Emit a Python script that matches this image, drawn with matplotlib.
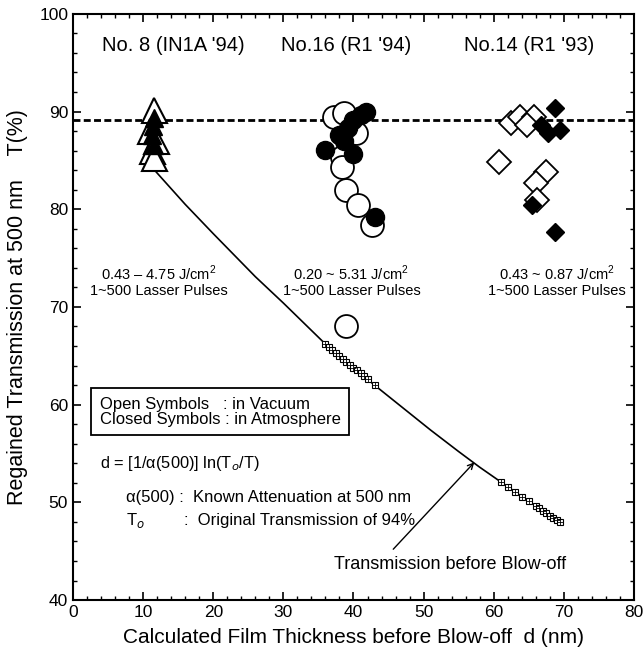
import numpy as np
import matplotlib
matplotlib.use("Agg")
import matplotlib.pyplot as plt
from matplotlib.ticker import MultipleLocator

plt.rcParams['font.family'] = ['Liberation Sans', 'DejaVu Sans']
plt.rcParams['mathtext.fontset'] = 'custom'
plt.rcParams['mathtext.rm'] = 'Liberation Sans'

# --- data ---
# No. 8 (IN1A '94): triangles
tri_open_d = [11.5, 11.0, 11.8, 11.2, 11.6]
tri_open_T = [90.2, 88.0, 87.0, 86.0, 85.2]
tri_closed_d = [11.5, 11.4, 11.3, 11.6]
tri_closed_T = [89.3, 88.5, 87.6, 86.6]

# No.16 (R1 '94): circles
circ_open_d = [37.2, 38.6, 40.3, 38.3, 38.3, 38.9, 40.6, 42.6, 38.9]
circ_open_T = [89.4, 89.8, 87.8, 85.3, 84.3, 82.0, 80.4, 78.4, 68.1]
circ_closed_d = [41.8, 40.0, 41.0, 37.9, 39.2, 36.0, 40.0, 38.6, 43.1]
circ_closed_T = [90.0, 89.1, 89.6, 87.6, 88.3, 86.1, 85.7, 87.0, 79.2]

# No.14 (R1 '93): diamonds
dia_open_d = [62.4, 63.8, 65.8, 64.8, 60.7, 67.4, 66.0, 66.2]
dia_open_T = [88.8, 89.4, 89.4, 88.6, 84.8, 83.8, 82.7, 80.9]
dia_closed_d = [68.8, 66.7, 67.7, 69.4, 65.5, 68.8]
dia_closed_T = [90.4, 88.6, 87.8, 88.1, 80.4, 77.7]

# transmission before blow-off (curve and its sample points)
curve_d = [11.5, 14, 16, 18, 20, 23, 26, 30, 33, 36, 40, 43, 47, 51, 55, 58, 61, 65, 69.5]
curve_T = [84.1, 82.1, 80.5, 79.0, 77.5, 75.3, 73.1, 70.4, 68.3, 66.2, 63.8, 62.0, 59.7, 57.4, 55.2, 53.6, 52.1, 50.1, 48.0]
sq_d = [10.6, 11.4, 12.2, 11.0, 12.0,
        36.0, 36.5, 37.0, 37.5, 38.0, 38.5, 39.0, 39.5, 40.0, 40.5, 41.0,
        41.5, 42.0, 43.0,
        61.0, 62.0, 63.0, 64.0, 65.0, 66.0, 66.5, 67.0, 67.5, 68.0, 68.5,
        69.0, 69.5]
sq_T = [85.0, 85.2, 84.6, 84.4, 85.6,
        66.2, 65.9, 65.6, 65.3, 65.0, 64.7, 64.4, 64.1, 63.8, 63.5, 63.2,
        62.9, 62.6, 62.0,
        52.1, 51.6, 51.1, 50.6, 50.1, 49.6, 49.4, 49.1, 48.9, 48.6, 48.4,
        48.2, 48.0]

T_level = 89.1

fig = plt.figure(figsize=(6.44, 6.58), dpi=100)
ax = fig.add_axes([0.1134, 0.088, 0.871, 0.891])

ax.axhline(T_level, color='black', lw=2, ls=(0, (2.5, 1.2)), zorder=1)

# curve
ax.plot(curve_d, curve_T, color='black', lw=1.2, zorder=2)
ax.plot(sq_d, sq_T, ls='none', marker='s', ms=5, mfc='white', mec='black', mew=0.8, zorder=3)
ax.plot(sq_d, sq_T, ls='none', marker='+', ms=5, mec='black', mew=0.6, zorder=3)

# triangles
for d, T in zip(tri_open_d, tri_open_T):
    ax.plot(d, T, marker='^', ms=18, mfc='white', mec='black', mew=1.5, zorder=4)
ax.plot(tri_closed_d, tri_closed_T, ls='none', marker='^', ms=13, mfc='black', mec='black', zorder=5)

# circles
ax.plot(circ_open_d, circ_open_T, ls='none', marker='o', ms=16.5, mfc='white', mec='black', mew=1.3, zorder=4)
ax.plot(circ_closed_d, circ_closed_T, ls='none', marker='o', ms=13, mfc='black', mec='black', zorder=5)

# diamonds
ax.plot(dia_open_d, dia_open_T, ls='none', marker='D', ms=12, mfc='white', mec='black', mew=1.3, zorder=4)
ax.plot(dia_closed_d, dia_closed_T, ls='none', marker='D', ms=9, mfc='black', mec='black', zorder=5)

ax.set_xlim(0, 80)
ax.set_ylim(40, 100)
ax.xaxis.set_major_locator(MultipleLocator(10))
ax.xaxis.set_minor_locator(MultipleLocator(2))
ax.yaxis.set_major_locator(MultipleLocator(10))
ax.yaxis.set_minor_locator(MultipleLocator(2))
ax.tick_params(which='both', direction='in', top=True, right=True, labelsize=12.5)
ax.tick_params(which='major', length=6, width=1.2)
ax.tick_params(which='minor', length=3, width=1)
for s in ax.spines.values():
    s.set_linewidth(1.5)

ax.set_xlabel("Calculated Film Thickness before Blow-off  d (nm)", fontsize=15, labelpad=6)
ax.set_ylabel("Regained Transmission at 500 nm    T(%)", fontsize=15.5, labelpad=8)

# group titles
ax.text(14.3, 96.8, "No. 8 (IN1A '94)", fontsize=14.5, ha='center', va='center')
ax.text(39.0, 96.8, "No.16 (R1 '94)", fontsize=14.5, ha='center', va='center')
ax.text(65.0, 96.8, "No.14 (R1 '93)", fontsize=14.5, ha='center', va='center')

# fluence annotations
ax.text(12.2, 72.7, "0.43 – 4.75 J/cm$^2$\n1~500 Lasser Pulses", fontsize=10.5, ha='center', va='center', linespacing=1.1)
ax.text(39.7, 72.7, "0.20 ~ 5.31 J/cm$^2$\n1~500 Lasser Pulses", fontsize=10.5, ha='center', va='center', linespacing=1.1)
ax.text(69.0, 72.7, "0.43 ~ 0.87 J/cm$^2$\n1~500 Lasser Pulses", fontsize=10.5, ha='center', va='center', linespacing=1.1)

# legend box
ax.text(3.8, 59.3, "Open Symbols   : in Vacuum\nClosed Symbols : in Atmosphere", fontsize=12, ha='left', va='center',
        linespacing=1.0, bbox=dict(boxstyle='square,pad=0.5', fc='white', ec='black', lw=1.3))

ax.text(3.8, 54.0, "d = [1/α(500)] ln(T$_o$/T)", fontsize=11.8, ha='left', va='center')
ax.text(7.6, 50.5, "α(500) :  Known Attenuation at 500 nm", fontsize=12, ha='left', va='center')
ax.text(7.6, 48.1, "T$_o$", fontsize=12, ha='left', va='center')
ax.text(15.8, 48.1, ":  Original Transmission of 94%", fontsize=12, ha='left', va='center')

ax.annotate("", xy=(57.5, 54.3), xytext=(45.4, 45.0),
            arrowprops=dict(arrowstyle='->', color='black', lw=1.0))
ax.text(53.8, 43.6, "Transmission before Blow-off", fontsize=13, ha='center', va='center')

fig.savefig("out.png", dpi=100)
